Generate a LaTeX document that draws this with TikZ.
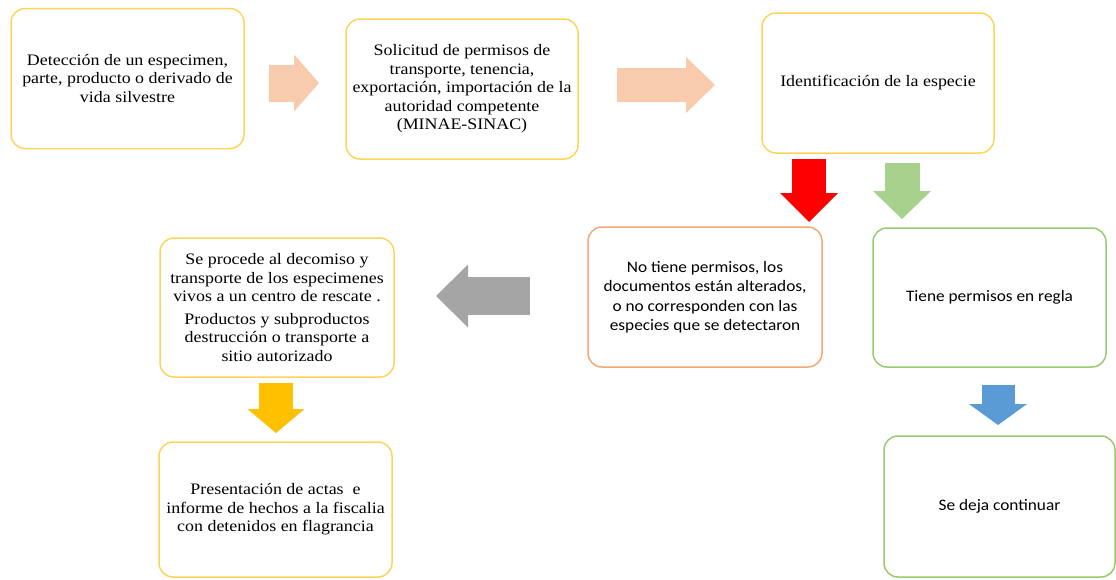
\documentclass[tikz,border=0pt]{standalone}
\usepackage{fontspec}
\setmainfont{Liberation Serif}[FakeStretch=1.12]
\newfontfamily\calibri{Carlito}[FakeStretch=1.08]
\usepackage{tikz}
\usetikzlibrary{arrows.meta}
\definecolor{boxyellow}{RGB}{255,212,92}
\definecolor{boxorange}{RGB}{244,168,116}
\definecolor{boxgreen}{RGB}{152,202,112}
\definecolor{peach}{RGB}{248,203,173}
\definecolor{okgreen}{RGB}{169,209,142}
\definecolor{arrowgray}{RGB}{165,165,165}
\definecolor{gold}{RGB}{255,192,0}
\definecolor{skyblue}{RGB}{91,155,213}
\tikzset{flowbox/.style={draw=boxyellow,line width=1.5pt,rounded corners=14pt,
        minimum width=233pt,minimum height=140pt,align=center,inner sep=0pt},
    serifbox/.style={flowbox,font=\fontsize{16}{18.5}\selectfont},
    sansbox/.style={flowbox,font=\calibri\fontsize{16}{19.5}\selectfont},
    blockarrow/.style n args={4}{color=#1,line width=#2,
        -{Triangle[line width=0pt,length=#3,width=#4]}}}

\begin{document}
\begin{tikzpicture}[x=1pt,y=-1pt]
\useasboundingbox (0,0) rectangle (1116,579);
% top row
\node[serifbox] (deteccion) at (127.5,78.5)
    {Detección de un especimen,\\ parte, producto o derivado de\\ vida silvestre};
\node[serifbox,minimum width=232pt] (solicitud) at (462,89)
    {Solicitud de permisos de\\ transporte, tenencia,\\ exportación, importación de la\\ autoridad competente\\ (MINAE-SINAC)};
\node[serifbox,minimum width=232pt] (identif) at (878,83)
    {Identificación de la especie};
% middle row
\node[sansbox,draw=boxorange,minimum width=234pt] (sinperm) at (705,297)
    {No tiene permisos, los\\ documentos están alterados,\\ o no corresponden con las\\ especies que se detectaron};
\node[sansbox,draw=boxgreen,minimum height=139pt] (enregla) at (989.5,297.5)
    {Tiene permisos en regla};
\node[serifbox,minimum width=234pt,minimum height=139pt] (decomiso) at (277,307.5)
    {Se procede al decomiso y\\ transporte de los especimenes\\ vivos a un centro de rescate .\\[4pt]
     Productos y subproductos\\ destrucción o transporte a\\ sitio autorizado};
% bottom row
\node[serifbox,minimum height=135pt] (actas) at (275.5,509.5)
    {Presentación de actas~ e\\ informe de hechos a la fiscalia\\ con detenidos en flagrancia};
\node[sansbox,draw=boxgreen,minimum width=231pt,minimum height=141pt] (continuar) at (999.5,506.5)
    {Se deja continuar};

% arrow ends
\coordinate (a1s) at (269,83);  \coordinate (a1e) at (319,83);
\coordinate (a2s) at (617,85);  \coordinate (a2e) at (715,85);
\coordinate (a3s) at (809,159); \coordinate (a3e) at (809,222);
\coordinate (a4s) at (902,163); \coordinate (a4e) at (902,219);
\coordinate (a5s) at (530,296); \coordinate (a5e) at (436,296);
\coordinate (a6s) at (276,383); \coordinate (a6e) at (276,433);
\coordinate (a7s) at (998,385); \coordinate (a7e) at (998,425);

\draw[blockarrow={peach}{37pt}{25pt}{57pt}] (a1s) -- (a1e);
\draw[blockarrow={peach}{34pt}{29pt}{56pt}] (a2s) -- (a2e);
\draw[blockarrow={red}{34pt}{29pt}{58pt}] (a3s) -- (a3e);
\draw[blockarrow={okgreen}{35pt}{28pt}{58pt}] (a4s) -- (a4e);
\draw[blockarrow={arrowgray}{38pt}{32pt}{63pt}] (a5s) -- (a5e);
\draw[blockarrow={gold}{34pt}{24pt}{57pt}] (a6s) -- (a6e);
\draw[blockarrow={skyblue}{33pt}{21pt}{58pt}] (a7s) -- (a7e);
\end{tikzpicture}
\end{document}
